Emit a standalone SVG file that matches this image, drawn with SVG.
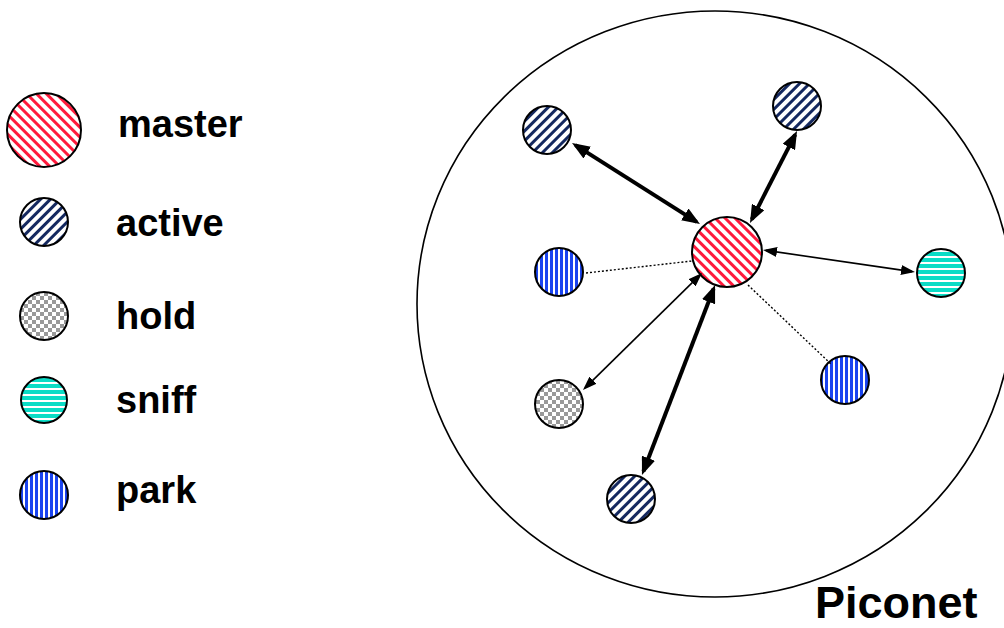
<svg xmlns="http://www.w3.org/2000/svg" width="1004" height="628" viewBox="0 0 1004 628">
<style>
.lbl{font-family:"Liberation Sans",Arial,sans-serif;font-weight:bold;fill:#000}
.node{stroke:#000;stroke-width:2}
.thick{stroke:#000;stroke-width:4;fill:none;marker-start:url(#ahThick);marker-end:url(#ahThick)}
.thin{stroke:#000;stroke-width:1.6;fill:none;marker-start:url(#ahThin);marker-end:url(#ahThin)}
.dot{stroke:#000;stroke-width:1.4;stroke-dasharray:2,2;fill:none}
</style>
<defs>
<pattern id="pMaster" patternUnits="userSpaceOnUse" width="7" height="7" patternTransform="rotate(-45)">
<rect width="7" height="7" fill="#fff"/><rect width="3" height="7" fill="#ff1a3c"/>
</pattern>
<pattern id="pActive" patternUnits="userSpaceOnUse" width="7" height="7" patternTransform="rotate(45)">
<rect width="7" height="7" fill="#fff"/><rect width="3" height="7" fill="#14285f"/>
</pattern>
<pattern id="pHold" patternUnits="userSpaceOnUse" width="8" height="8">
<rect width="8" height="8" fill="#fff"/><rect width="4" height="4" fill="#999"/><rect x="4" y="4" width="4" height="4" fill="#999"/>
</pattern>
<pattern id="pSniff" patternUnits="userSpaceOnUse" width="6" height="6">
<rect width="6" height="6" fill="#fff"/><rect width="6" height="4" fill="#0bdcc6"/>
</pattern>
<pattern id="pPark" patternUnits="userSpaceOnUse" width="5" height="5">
<rect width="5" height="5" fill="#fff"/><rect width="3" height="5" fill="#1a44f0"/>
</pattern>
<marker id="ahThick" markerUnits="userSpaceOnUse" markerWidth="18" markerHeight="14" refX="14" refY="7" orient="auto-start-reverse" viewBox="0 0 18 14">
<path d="M0,0 L18,7 L0,14 z" fill="#000"/>
</marker>
<marker id="ahThin" markerUnits="userSpaceOnUse" markerWidth="14" markerHeight="10" refX="11" refY="5" orient="auto-start-reverse" viewBox="0 0 14 10">
<path d="M0,0 L14,5 L0,10 z" fill="#000"/>
</marker>
</defs>
<rect width="1004" height="628" fill="#fff"/>

<g id="legend">
<g id="legend-master"><circle class="node" cx="44" cy="130" r="37" fill="url(#pMaster)"/><text class="lbl" x="118" y="137" font-size="38">master</text></g>
<g id="legend-active"><circle class="node" cx="44" cy="222" r="24" fill="url(#pActive)"/><text class="lbl" x="116" y="236" font-size="38">active</text></g>
<g id="legend-hold"><circle class="node" cx="44" cy="316" r="24" fill="url(#pHold)"/><text class="lbl" x="116" y="329" font-size="38">hold</text></g>
<g id="legend-sniff"><circle class="node" cx="44" cy="400" r="23" fill="url(#pSniff)"/><text class="lbl" x="116" y="413" font-size="38">sniff</text></g>
<g id="legend-park"><circle class="node" cx="44" cy="495" r="24" fill="url(#pPark)"/><text class="lbl" x="116" y="503" font-size="38">park</text></g>
</g>

<g id="piconet">
<ellipse cx="715" cy="304" rx="298" ry="293" fill="none" stroke="#000" stroke-width="1.6"/>
<text class="lbl" x="815" y="618" font-size="45">Piconet</text>
</g>

<g id="node-master"><circle class="node" cx="727" cy="252" r="35" fill="url(#pMaster)"/></g>
<g id="node-active-tl"><circle class="node" cx="547" cy="130" r="24" fill="url(#pActive)"/></g>
<g id="node-active-tr"><circle class="node" cx="797" cy="106" r="24" fill="url(#pActive)"/></g>
<g id="node-sniff"><circle class="node" cx="941" cy="273" r="24" fill="url(#pSniff)"/></g>
<g id="node-park-r"><circle class="node" cx="845" cy="380" r="24" fill="url(#pPark)"/></g>
<g id="node-park-l"><circle class="node" cx="559" cy="272" r="24" fill="url(#pPark)"/></g>
<g id="node-hold"><circle class="node" cx="559" cy="404" r="24" fill="url(#pHold)"/></g>
<g id="node-active-b"><circle class="node" cx="631" cy="499" r="24" fill="url(#pActive)"/></g>

<g id="connectors">
<line class="thick" x1="575.4" y1="145.1" x2="696.6" y2="221.9"/>
<line class="thick" x1="795.2" y1="134.6" x2="751.8" y2="219.4"/>
<line class="thin" x1="766" y1="250.4" x2="912" y2="271.6"/>
<line class="dot" x1="748" y1="285" x2="832" y2="365"/>
<line class="dot" x1="586" y1="273" x2="692" y2="261"/>
<line class="thin" x1="699.9" y1="275.1" x2="585.1" y2="387.9"/>
<line class="thick" x1="713.6" y1="288.7" x2="643.4" y2="471.3"/>
</g>
</svg>
